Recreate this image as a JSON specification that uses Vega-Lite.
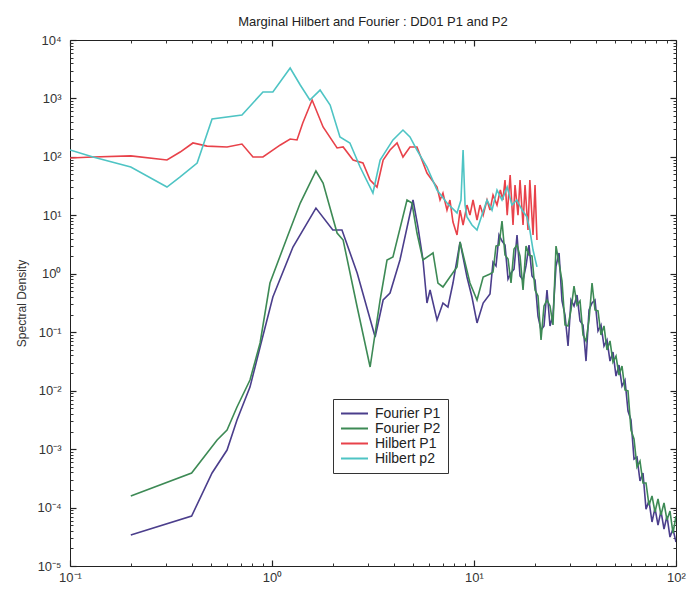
{
 "$schema": "https://vega.github.io/schema/vega-lite/v6.json",
 "width": 606,
 "height": 526,
 "autosize": {"type": "none"},
 "padding": {"left": 70, "top": 40, "right": 12, "bottom": 30},
 "background": "white",
 "title": {"text": "Marginal Hilbert and Fourier : DD01 P1 and P2", "fontSize": 13, "fontWeight": "normal", "font": "Liberation Sans", "color": "#222", "offset": 5},
 "config": {"view": {"stroke": "#222", "strokeWidth": 1}},
 "datasets": {
  "spec": [
   {"s":"Fourier P1","f":0.2,"v":3.39e-5},{"s":"Fourier P1","f":0.4,"v":7.16e-5},{"s":"Fourier P1","f":0.505,"v":0.00039},{"s":"Fourier P1","f":0.599,"v":0.000964},{"s":"Fourier P1","f":0.671,"v":0.00315},{"s":"Fourier P1","f":0.778,"v":0.0115},{"s":"Fourier P1","f":0.873,"v":0.0558},{"s":"Fourier P1","f":1.01,"v":0.40},{"s":"Fourier P1","f":1.27,"v":2.87},{"s":"Fourier P1","f":1.65,"v":13.3},{"s":"Fourier P1","f":2.0,"v":5.61},{"s":"Fourier P1","f":2.22,"v":5.61},{"s":"Fourier P1","f":2.64,"v":1.03},{"s":"Fourier P1","f":3.24,"v":0.0828},{"s":"Fourier P1","f":3.55,"v":0.356},{"s":"Fourier P1","f":3.84,"v":0.469},{"s":"Fourier P1","f":4.30,"v":1.72},{"s":"Fourier P1","f":4.99,"v":18.3},{"s":"Fourier P1","f":5.28,"v":6.31},{"s":"Fourier P1","f":5.59,"v":1.72},{"s":"Fourier P1","f":5.85,"v":0.316},{"s":"Fourier P1","f":6.06,"v":0.528},{"s":"Fourier P1","f":6.56,"v":0.162},{"s":"Fourier P1","f":7.02,"v":0.316},{"s":"Fourier P1","f":7.43,"v":0.270},{"s":"Fourier P1","f":7.87,"v":0.695},{"s":"Fourier P1","f":8.53,"v":3.50},{"s":"Fourier P1","f":9.23,"v":0.881},{"s":"Fourier P1","f":9.77,"v":0.40},{"s":"Fourier P1","f":10.35,"v":0.144},{"s":"Fourier P1","f":11.1,"v":0.316},
   {"s":"Fourier P1","f":12.0,"v":0.451},{"s":"Fourier P1","f":12.42,"v":1.59},{"s":"Fourier P1","f":12.85,"v":1.36},{"s":"Fourier P1","f":13.30,"v":4.61},{"s":"Fourier P1","f":13.76,"v":3.63},{"s":"Fourier P1","f":14.24,"v":3.10},{"s":"Fourier P1","f":14.74,"v":0.814},{"s":"Fourier P1","f":15.25,"v":1.03},{"s":"Fourier P1","f":15.78,"v":1.20},{"s":"Fourier P1","f":16.33,"v":4.61},{"s":"Fourier P1","f":16.90,"v":0.916},{"s":"Fourier P1","f":17.49,"v":0.782},{"s":"Fourier P1","f":18.09,"v":1.36},{"s":"Fourier P1","f":18.72,"v":3.10},{"s":"Fourier P1","f":19.37,"v":0.916},{"s":"Fourier P1","f":20.05,"v":0.782},{"s":"Fourier P1","f":20.74,"v":0.189},{"s":"Fourier P1","f":21.47,"v":0.109},{"s":"Fourier P1","f":22.21,"v":0.128},{"s":"Fourier P1","f":22.98,"v":0.528},{"s":"Fourier P1","f":23.78,"v":0.128},{"s":"Fourier P1","f":24.61,"v":0.197},{"s":"Fourier P1","f":25.47,"v":1.36},{"s":"Fourier P1","f":26.36,"v":2.27},{"s":"Fourier P1","f":27.27,"v":0.342},{"s":"Fourier P1","f":28.22,"v":0.197},{"s":"Fourier P1","f":29.21,"v":0.0581},{"s":"Fourier P1","f":30.22,"v":0.356},{"s":"Fourier P1","f":31.27,"v":0.281},{"s":"Fourier P1","f":32.36,"v":0.433},{"s":"Fourier P1","f":33.49,"v":0.156},{"s":"Fourier P1","f":34.65,"v":0.133},{"s":"Fourier P1","f":35.86,"v":0.0321},{"s":"Fourier P1","f":37.11,"v":0.240},{"s":"Fourier P1","f":38.40,"v":0.316},{"s":"Fourier P1","f":39.72,"v":0.356},{"s":"Fourier P1","f":41.11,"v":0.105},{"s":"Fourier P1","f":42.53,"v":0.133},{"s":"Fourier P1","f":44.01,"v":0.0581},{"s":"Fourier P1","f":45.54,"v":0.0736},{"s":"Fourier P1","f":47.13,"v":0.0321},{"s":"Fourier P1","f":48.76,"v":0.0458},{"s":"Fourier P1","f":50.47,"v":0.0178},{"s":"Fourier P1","f":52.22,"v":0.0275},{"s":"Fourier P1","f":54.04,"v":0.0120},{"s":"Fourier P1","f":55.91,"v":0.0152},{"s":"Fourier P1","f":57.86,"v":0.00449},{"s":"Fourier P1","f":59.87,"v":0.00315},{"s":"Fourier P1","f":61.96,"v":0.000677},{"s":"Fourier P1","f":64.11,"v":0.000732},{"s":"Fourier P1","f":66.34,"v":0.000285},{"s":"Fourier P1","f":68.65,"v":0.000390},{"s":"Fourier P1","f":71.04,"v":9.4e-5},{"s":"Fourier P1","f":73.50,"v":0.000130},{"s":"Fourier P1","f":76.07,"v":5.66e-5},{"s":"Fourier P1","f":78.71,"v":9.77e-5},{"s":"Fourier P1","f":81.45,"v":5.02e-5},{"s":"Fourier P1","f":84.28,"v":8.72e-5},{"s":"Fourier P1","f":87.22,"v":4.29e-5},{"s":"Fourier P1","f":90.25,"v":7.16e-5},{"s":"Fourier P1","f":93.39,"v":3.13e-5},{"s":"Fourier P1","f":96.63,"v":4.29e-5},{"s":"Fourier P1","f":100,"v":2.57e-5},

   {"s":"Fourier P2","f":0.2,"v":1.57e-4},{"s":"Fourier P2","f":0.4,"v":3.9e-4},{"s":"Fourier P2","f":0.535,"v":0.00143},{"s":"Fourier P2","f":0.599,"v":0.00212},{"s":"Fourier P2","f":0.671,"v":0.00525},{"s":"Fourier P2","f":0.778,"v":0.0152},{"s":"Fourier P2","f":0.873,"v":0.0654},{"s":"Fourier P2","f":0.977,"v":0.695},{"s":"Fourier P2","f":1.19,"v":4.26},{"s":"Fourier P2","f":1.38,"v":16.2},{"s":"Fourier P2","f":1.65,"v":57.3},{"s":"Fourier P2","f":1.79,"v":35.7},{"s":"Fourier P2","f":2.10,"v":4.98},{"s":"Fourier P2","f":2.25,"v":3.78},{"s":"Fourier P2","f":2.64,"v":0.270},{"s":"Fourier P2","f":3.06,"v":0.0254},{"s":"Fourier P2","f":3.43,"v":0.356},{"s":"Fourier P2","f":3.71,"v":1.72},{"s":"Fourier P2","f":3.97,"v":1.94},{"s":"Fourier P2","f":4.66,"v":18.3},{"s":"Fourier P2","f":4.93,"v":16.2},{"s":"Fourier P2","f":5.22,"v":4.98},{"s":"Fourier P2","f":5.59,"v":1.72},{"s":"Fourier P2","f":6.27,"v":2.27},{"s":"Fourier P2","f":6.63,"v":0.695},{"s":"Fourier P2","f":7.02,"v":0.594},{"s":"Fourier P2","f":7.60,"v":0.881},{"s":"Fourier P2","f":8.24,"v":1.31},{"s":"Fourier P2","f":8.53,"v":3.50},{"s":"Fourier P2","f":9.55,"v":0.695},{"s":"Fourier P2","f":10.35,"v":0.356},{"s":"Fourier P2","f":11.1,"v":0.881},
   {"s":"Fourier P2","f":12.0,"v":0.991},{"s":"Fourier P2","f":12.42,"v":1.07},{"s":"Fourier P2","f":12.85,"v":2.98},{"s":"Fourier P2","f":13.30,"v":3.10},{"s":"Fourier P2","f":13.76,"v":8.0},{"s":"Fourier P2","f":14.24,"v":2.09},{"s":"Fourier P2","f":14.74,"v":1.79},{"s":"Fourier P2","f":15.25,"v":0.695},{"s":"Fourier P2","f":15.78,"v":2.65},{"s":"Fourier P2","f":16.33,"v":3.10},{"s":"Fourier P2","f":16.90,"v":2.01},{"s":"Fourier P2","f":17.49,"v":0.528},{"s":"Fourier P2","f":18.09,"v":2.98},{"s":"Fourier P2","f":18.72,"v":2.09},{"s":"Fourier P2","f":19.37,"v":2.01},{"s":"Fourier P2","f":20.05,"v":0.528},{"s":"Fourier P2","f":20.74,"v":0.416},{"s":"Fourier P2","f":21.47,"v":0.0736},{"s":"Fourier P2","f":22.21,"v":0.281},{"s":"Fourier P2","f":22.98,"v":0.356},{"s":"Fourier P2","f":23.78,"v":0.281},{"s":"Fourier P2","f":24.61,"v":0.133},{"s":"Fourier P2","f":25.47,"v":2.98},{"s":"Fourier P2","f":26.36,"v":1.53},{"s":"Fourier P2","f":27.27,"v":0.752},{"s":"Fourier P2","f":28.22,"v":0.133},{"s":"Fourier P2","f":29.21,"v":0.128},{"s":"Fourier P2","f":30.22,"v":0.240},{"s":"Fourier P2","f":31.27,"v":0.617},{"s":"Fourier P2","f":32.36,"v":0.292},{"s":"Fourier P2","f":33.49,"v":0.342},{"s":"Fourier P2","f":34.65,"v":0.0896},{"s":"Fourier P2","f":35.86,"v":0.0708},{"s":"Fourier P2","f":37.11,"v":0.162},{"s":"Fourier P2","f":38.40,"v":0.695},{"s":"Fourier P2","f":39.72,"v":0.240},{"s":"Fourier P2","f":41.11,"v":0.231},{"s":"Fourier P2","f":42.53,"v":0.0896},{"s":"Fourier P2","f":44.01,"v":0.128},{"s":"Fourier P2","f":45.54,"v":0.0496},{"s":"Fourier P2","f":47.13,"v":0.0708},{"s":"Fourier P2","f":48.76,"v":0.0309},{"s":"Fourier P2","f":50.47,"v":0.0391},{"s":"Fourier P2","f":52.22,"v":0.0185},{"s":"Fourier P2","f":54.04,"v":0.0264},{"s":"Fourier P2","f":55.91,"v":0.0103},{"s":"Fourier P2","f":57.86,"v":0.0099},{"s":"Fourier P2","f":59.87,"v":0.00212},{"s":"Fourier P2","f":61.96,"v":0.00149},{"s":"Fourier P2","f":64.11,"v":0.000494},{"s":"Fourier P2","f":66.34,"v":0.000625},{"s":"Fourier P2","f":68.65,"v":0.000263},{"s":"Fourier P2","f":71.04,"v":0.000263},{"s":"Fourier P2","f":73.50,"v":0.000110},{"s":"Fourier P2","f":76.07,"v":0.000158},{"s":"Fourier P2","f":78.71,"v":8.38e-5},{"s":"Fourier P2","f":81.45,"v":0.000140},{"s":"Fourier P2","f":84.28,"v":7.45e-5},{"s":"Fourier P2","f":87.22,"v":0.000120},{"s":"Fourier P2","f":90.25,"v":6.12e-5},{"s":"Fourier P2","f":93.39,"v":8.72e-5},{"s":"Fourier P2","f":96.63,"v":3.66e-5},{"s":"Fourier P2","f":100,"v":7.16e-5},

   {"s":"Hilbert P1","f":0.1,"v":95.7},{"s":"Hilbert P1","f":0.13,"v":99.5},{"s":"Hilbert P1","f":0.2,"v":104},{"s":"Hilbert P1","f":0.302,"v":88.5},{"s":"Hilbert P1","f":0.351,"v":121},{"s":"Hilbert P1","f":0.406,"v":173},{"s":"Hilbert P1","f":0.477,"v":153},{"s":"Hilbert P1","f":0.599,"v":148},{"s":"Hilbert P1","f":0.71,"v":166},{"s":"Hilbert P1","f":0.805,"v":99.5},{"s":"Hilbert P1","f":0.902,"v":99.5},{"s":"Hilbert P1","f":1.10,"v":160},{"s":"Hilbert P1","f":1.23,"v":202},{"s":"Hilbert P1","f":1.33,"v":195},{"s":"Hilbert P1","f":1.42,"v":380},{"s":"Hilbert P1","f":1.58,"v":940},{"s":"Hilbert P1","f":1.79,"v":325},{"s":"Hilbert P1","f":2.10,"v":142},{"s":"Hilbert P1","f":2.25,"v":148},{"s":"Hilbert P1","f":2.52,"v":88.5},{"s":"Hilbert P1","f":2.82,"v":78.6},{"s":"Hilbert P1","f":3.06,"v":40.2},{"s":"Hilbert P1","f":3.31,"v":30.5},{"s":"Hilbert P1","f":3.55,"v":88.5},{"s":"Hilbert P1","f":3.84,"v":131},{"s":"Hilbert P1","f":4.16,"v":173},{"s":"Hilbert P1","f":4.45,"v":99.5},{"s":"Hilbert P1","f":4.82,"v":148},{"s":"Hilbert P1","f":5.22,"v":148},{"s":"Hilbert P1","f":5.85,"v":53.0},
   {"s":"Hilbert P1","f":6.56,"v":30.5},{"s":"Hilbert P1","f":6.79,"v":18.3},{"s":"Hilbert P1","f":7.02,"v":24.1},{"s":"Hilbert P1","f":7.35,"v":12.3},{"s":"Hilbert P1","f":7.60,"v":18.3},{"s":"Hilbert P1","f":7.87,"v":7.69},{"s":"Hilbert P1","f":8.24,"v":4.61},{"s":"Hilbert P1","f":8.53,"v":12.3},{"s":"Hilbert P1","f":8.83,"v":6.83},{"s":"Hilbert P1","f":9.23,"v":15.0},{"s":"Hilbert P1","f":9.55,"v":10.1},{"s":"Hilbert P1","f":9.89,"v":18.3},{"s":"Hilbert P1","f":10.35,"v":8.32},{"s":"Hilbert P1","f":10.71,"v":15.0},{"s":"Hilbert P1","f":11.1,"v":10.1},{"s":"Hilbert P1","f":11.6,"v":18.3},{"s":"Hilbert P1","f":12.0,"v":12.3},{"s":"Hilbert P1","f":12.42,"v":22.3},{"s":"Hilbert P1","f":13.0,"v":15.0},{"s":"Hilbert P1","f":13.5,"v":27.1},{"s":"Hilbert P1","f":13.9,"v":18.3},{"s":"Hilbert P1","f":14.24,"v":40.2},{"s":"Hilbert P1","f":14.6,"v":10.1},{"s":"Hilbert P1","f":15.1,"v":49.0},{"s":"Hilbert P1","f":15.6,"v":6.83},{"s":"Hilbert P1","f":15.96,"v":33.0},{"s":"Hilbert P1","f":16.51,"v":10.1},{"s":"Hilbert P1","f":16.9,"v":40.2},{"s":"Hilbert P1","f":17.49,"v":6.83},{"s":"Hilbert P1","f":17.89,"v":33.0},{"s":"Hilbert P1","f":18.51,"v":5.61},{"s":"Hilbert P1","f":18.9,"v":40.2},{"s":"Hilbert P1","f":19.6,"v":4.61},{"s":"Hilbert P1","f":20.05,"v":33.0},{"s":"Hilbert P1","f":20.5,"v":3.78},

   {"s":"Hilbert p2","f":0.1,"v":131},{"s":"Hilbert p2","f":0.13,"v":99.5},{"s":"Hilbert p2","f":0.2,"v":67.1},{"s":"Hilbert p2","f":0.302,"v":30.5},{"s":"Hilbert p2","f":0.351,"v":45.3},{"s":"Hilbert p2","f":0.426,"v":78.6},{"s":"Hilbert p2","f":0.505,"v":445},{"s":"Hilbert p2","f":0.71,"v":521},{"s":"Hilbert p2","f":0.902,"v":1290},{"s":"Hilbert p2","f":1.01,"v":1290},{"s":"Hilbert p2","f":1.23,"v":3320},{"s":"Hilbert p2","f":1.38,"v":1700},{"s":"Hilbert p2","f":1.54,"v":940},{"s":"Hilbert p2","f":1.73,"v":1390},{"s":"Hilbert p2","f":1.94,"v":772},{"s":"Hilbert p2","f":2.17,"v":219},{"s":"Hilbert p2","f":2.43,"v":173},{"s":"Hilbert p2","f":2.73,"v":67.1},{"s":"Hilbert p2","f":3.16,"v":24.1},{"s":"Hilbert p2","f":3.43,"v":88.5},{"s":"Hilbert p2","f":3.97,"v":195},{"s":"Hilbert p2","f":4.45,"v":288},{"s":"Hilbert p2","f":4.82,"v":219},{"s":"Hilbert p2","f":5.22,"v":131},{"s":"Hilbert p2","f":5.85,"v":67.1},{"s":"Hilbert p2","f":6.56,"v":27.1},{"s":"Hilbert p2","f":7.35,"v":16.2},{"s":"Hilbert p2","f":8.24,"v":11.0},{"s":"Hilbert p2","f":8.62,"v":18.3},{"s":"Hilbert p2","f":8.83,"v":131},{"s":"Hilbert p2","f":9.03,"v":15.0},{"s":"Hilbert p2","f":9.23,"v":9.36},{"s":"Hilbert p2","f":9.77,"v":6.83},{"s":"Hilbert p2","f":10.35,"v":5.61},{"s":"Hilbert p2","f":10.95,"v":10.1},{"s":"Hilbert p2","f":11.6,"v":18.3},{"s":"Hilbert p2","f":12.28,"v":12.3},{"s":"Hilbert p2","f":13.0,"v":27.1},{"s":"Hilbert p2","f":13.76,"v":18.3},{"s":"Hilbert p2","f":14.6,"v":30.5},{"s":"Hilbert p2","f":15.4,"v":15.0},{"s":"Hilbert p2","f":16.3,"v":18.3},{"s":"Hilbert p2","f":17.3,"v":12.3},{"s":"Hilbert p2","f":18.3,"v":9.36},{"s":"Hilbert p2","f":18.9,"v":5.61},{"s":"Hilbert p2","f":19.6,"v":2.55},{"s":"Hilbert p2","f":20.5,"v":1.31}
  ],
  "frame": [{"f": 0.1, "v": 1e-5}, {"f": 100, "v": 10000}]
 },
 "layer": [
  {
   "data": {"name": "spec"},
   "mark": {"type": "line", "strokeWidth": 1.6, "clip": true},
   "encoding": {
    "x": {"field": "f", "type": "quantitative", "scale": {"type": "log", "domain": [0.1, 100], "nice": false},
     "axis": {"orient": "bottom", "values": [0.1, 1, 10, 100], "ticks": false, "domain": false, "labelPadding": 5, "title": null, "grid": false, "labelFont": "Liberation Sans", "labelFontSize": 13, "labelColor": "#333", "labelFlush": false, "labelOverlap": false, "labelBound": false,
      "labelExpr": "'10' + replace(replace(replace(replace(replace(replace(replace(''+round(log(datum.value)/LN10),'-','⁻'),'0','⁰'),'1','¹'),'2','²'),'3','³'),'4','⁴'),'5','⁵')"}},
    "y": {"field": "v", "type": "quantitative", "scale": {"type": "log", "domain": [1e-5, 10000], "nice": false},
     "axis": {"orient": "left", "values": [1e-5, 1e-4, 1e-3, 1e-2, 0.1, 1, 10, 100, 1000, 10000], "ticks": false, "domain": false, "labelPadding": 9, "grid": false, "labelFont": "Liberation Sans", "labelFontSize": 13, "labelColor": "#333", "labelOverlap": false, "labelBound": false,
      "labelExpr": "'10' + replace(replace(replace(replace(replace(replace(replace(''+round(log(datum.value)/LN10),'-','⁻'),'0','⁰'),'1','¹'),'2','²'),'3','³'),'4','⁴'),'5','⁵')",
      "title": "Spectral Density", "titleFont": "Liberation Sans", "titleFontSize": 12, "titleFontWeight": "normal", "titleColor": "#333", "titleX": -49, "titleBaseline": "middle"}},
    "color": {"field": "s", "type": "nominal",
     "scale": {"domain": ["Fourier P1", "Fourier P2", "Hilbert P1", "Hilbert p2"], "range": ["#4b3e8c", "#3d8a55", "#e8424a", "#4ec4c4"]},
     "legend": {"title": null, "orient": "none", "legendX": 263, "legendY": 359, "strokeColor": "#333", "fillColor": "white", "padding": 7, "symbolType": "stroke", "symbolSize": 729, "symbolStrokeWidth": 2, "labelFont": "Liberation Sans", "labelFontSize": 14, "labelColor": "#222", "rowPadding": 0, "clipHeight": 15, "labelOffset": 6}}
   }
  },
  {
   "data": {"name": "frame"},
   "mark": {"type": "point", "opacity": 0},
   "encoding": {
    "x": {"field": "f", "type": "quantitative", "scale": {"type": "log"}, "axis": {"orient": "bottom", "offset": -6, "values": [0.1, 1, 10, 100], "tickSize": 6, "tickWidth": 1.2, "labels": false, "domain": false, "title": null, "grid": false, "tickColor": "#222"}},
    "y": {"field": "v", "type": "quantitative", "scale": {"type": "log"}, "axis": {"orient": "left", "offset": -6, "values": [1e-5, 1e-4, 1e-3, 1e-2, 0.1, 1, 10, 100, 1000, 10000], "tickSize": 6, "tickWidth": 1.2, "labels": false, "domain": false, "title": null, "grid": false, "tickColor": "#222"}}
   }
  },
  {
   "data": {"name": "frame"},
   "mark": {"type": "point", "opacity": 0},
   "encoding": {
    "x": {"field": "f", "type": "quantitative", "scale": {"type": "log"}, "axis": {"orient": "top", "offset": -6, "values": [0.1, 1, 10, 100], "tickSize": 6, "tickWidth": 1.2, "labels": false, "domain": false, "title": null, "grid": false, "tickColor": "#222"}},
    "y": {"field": "v", "type": "quantitative", "scale": {"type": "log"}, "axis": {"orient": "right", "offset": -6, "values": [1e-5, 1e-4, 1e-3, 1e-2, 0.1, 1, 10, 100, 1000, 10000], "tickSize": 6, "tickWidth": 1.2, "labels": false, "domain": false, "title": null, "grid": false, "tickColor": "#222"}}
   }
  },
  {
   "data": {"name": "frame"},
   "mark": {"type": "point", "opacity": 0},
   "encoding": {
    "x": {"field": "f", "type": "quantitative", "scale": {"type": "log"}, "axis": {"orient": "bottom", "offset": -3, "values": [0.2,0.3,0.4,0.5,0.6,0.7,0.8,0.9,2,3,4,5,6,7,8,9,20,30,40,50,60,70,80,90], "tickSize": 3, "labels": false, "title": null, "grid": false, "domain": false, "tickColor": "#333"}},
    "y": {"field": "v", "type": "quantitative", "scale": {"type": "log"}, "axis": {"orient": "left", "offset": -3, "values": [2e-5,3e-5,4e-5,5e-5,6e-5,7e-5,8e-5,9e-5,2e-4,3e-4,4e-4,5e-4,6e-4,7e-4,8e-4,9e-4,0.002,0.003,0.004,0.005,0.006,0.007,0.008,0.009,0.02,0.03,0.04,0.05,0.06,0.07,0.08,0.09,0.2,0.3,0.4,0.5,0.6,0.7,0.8,0.9,2,3,4,5,6,7,8,9,20,30,40,50,60,70,80,90,200,300,400,500,600,700,800,900,2000,3000,4000,5000,6000,7000,8000,9000], "tickSize": 3, "labels": false, "title": null, "grid": false, "domain": false, "tickColor": "#333"}}
   }
  },
  {
   "data": {"name": "frame"},
   "mark": {"type": "point", "opacity": 0},
   "encoding": {
    "x": {"field": "f", "type": "quantitative", "scale": {"type": "log"}, "axis": {"orient": "top", "offset": -3, "values": [0.2,0.3,0.4,0.5,0.6,0.7,0.8,0.9,2,3,4,5,6,7,8,9,20,30,40,50,60,70,80,90], "tickSize": 3, "labels": false, "title": null, "grid": false, "domain": false, "tickColor": "#333"}},
    "y": {"field": "v", "type": "quantitative", "scale": {"type": "log"}, "axis": {"orient": "right", "offset": -3, "values": [2e-5,3e-5,4e-5,5e-5,6e-5,7e-5,8e-5,9e-5,2e-4,3e-4,4e-4,5e-4,6e-4,7e-4,8e-4,9e-4,0.002,0.003,0.004,0.005,0.006,0.007,0.008,0.009,0.02,0.03,0.04,0.05,0.06,0.07,0.08,0.09,0.2,0.3,0.4,0.5,0.6,0.7,0.8,0.9,2,3,4,5,6,7,8,9,20,30,40,50,60,70,80,90,200,300,400,500,600,700,800,900,2000,3000,4000,5000,6000,7000,8000,9000], "tickSize": 3, "labels": false, "title": null, "grid": false, "domain": false, "tickColor": "#333"}}
   }
  }
 ],
 "resolve": {"axis": {"x": "independent", "y": "independent"}}
}
